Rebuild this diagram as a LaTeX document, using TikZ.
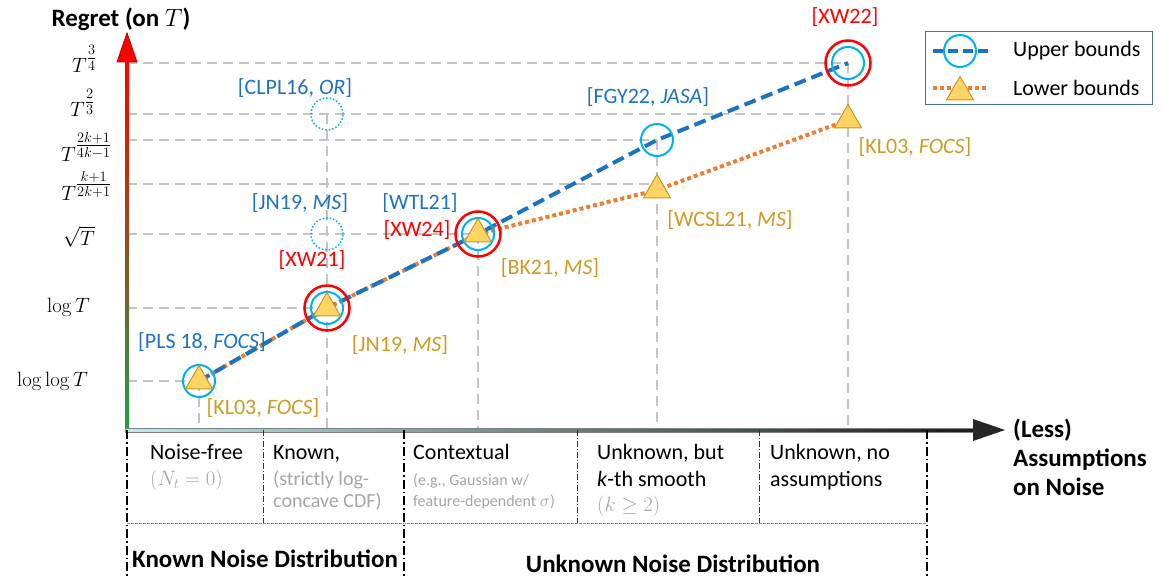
\documentclass[tikz,border=0pt]{standalone}
\usepackage[no-math]{fontspec}
\setmainfont{Carlito}
\usetikzlibrary{shapes.geometric,positioning}

\definecolor{refblue}{RGB}{30,115,190}
\definecolor{ringcyan}{RGB}{0,176,240}
\definecolor{lborange}{RGB}{237,125,49}
\definecolor{lbfill}{RGB}{255,212,100}
\definecolor{lbedge}{RGB}{200,150,30}
\definecolor{lbtext}{RGB}{205,155,35}
\definecolor{gridgray}{RGB}{195,195,195}
\definecolor{notegray}{RGB}{165,165,165}
\definecolor{legendframe}{RGB}{70,120,140}
\definecolor{axgreen}{RGB}{30,160,70}
\definecolor{axbrown}{RGB}{205,110,40}
\definecolor{axcyan}{RGB}{190,235,235}

\newcommand{\venue}[1]{\textit{#1}}
\newcommand{\labsize}{\fontsize{22}{26}\selectfont}
\newcommand{\notesize}{\fontsize{20}{24}\selectfont}
\newcommand{\tinynote}{\fontsize{16}{19}\selectfont}
\newcommand{\headsize}{\fontsize{25}{29}\selectfont\bfseries}

\begin{document}
\begin{tikzpicture}[x=1pt, y=-1pt,
  guide/.style={draw=gridgray, line width=1.5pt, dash pattern=on 10pt off 6pt},
  upper/.style={draw=refblue, line width=4pt, dash pattern=on 12pt off 6pt},
  lower/.style={draw=lborange, line width=4pt, dash pattern=on 4pt off 3pt},
  ubring/.style={circle, draw=ringcyan, line width=2pt, minimum size=32pt, inner sep=0pt},
  ubguess/.style={ubring, line width=1.5pt, dash pattern=on 1.5pt off 2pt},
  ourring/.style={circle, draw=red, line width=2.5pt, minimum size=45pt, inner sep=0pt},
  lbmark/.style={regular polygon, regular polygon sides=3, fill=lbfill, draw=lbedge,
    line width=1pt, minimum size=31pt, inner sep=0pt},
  reflab/.style={font=\labsize, inner sep=0pt},
  ticklab/.style={font=\labsize, inner sep=0pt, anchor=east},
  celltext/.style={font=\labsize, inner sep=0pt, anchor=base west},
  cellnote/.style={font=\notesize, text=notegray, inner sep=0pt, anchor=base west},
  groupsep/.style={line width=1.6pt, dash pattern=on 9pt off 3pt on 1.5pt off 3pt},
  cellsep/.style={draw=black!80, line width=0.7pt, dash pattern=on 6pt off 2pt on 1pt off 2pt},
  rowsep/.style={draw=black!45, line width=0.8pt, dash pattern=on 3pt off 1pt}]
  \useasboundingbox (0,0) rectangle (1162,578);

  % origin and regret levels on the vertical axis
  \coordinate (o) at (127,430);
  \coordinate (t34) at (127,63);
  \coordinate (t23) at (127,114);
  \coordinate (tk2) at (127,140);
  \coordinate (tk1) at (127,184);
  \coordinate (tsq) at (127,234);
  \coordinate (tlg) at (127,308);
  \coordinate (tll) at (127,381);

  % bounds
  \coordinate (p1) at (199,381);
  \coordinate (p2) at (327,308);
  \coordinate (p3) at (478,234);
  \coordinate (u4) at (657,140);
  \coordinate (l4) at (657,190);
  \coordinate (u5) at (848,63);
  \coordinate (l5) at (848,120);
  \coordinate (c1) at (327,114);
  \coordinate (c2) at (327,234);

  % guide lines
  \draw[guide] (t34) -- (u5);
  \draw[guide] (t23) -- (t23 -| l5);
  \draw[guide] (tk2) -- (u4);
  \draw[guide] (tk1) -- (tk1 -| l4);
  \draw[guide] (tsq) -- (p3);
  \draw[guide] (tlg) -- (p2);
  \draw[guide] (tll) -- (p1);
  \draw[guide] (p1) -- (p1 |- o);
  \draw[guide] (c1) -- (c1 |- o);
  \draw[guide] (p3) -- (p3 |- o);
  \draw[guide] (u4) -- (u4 |- o);
  \draw[guide] (u5) -- (u5 |- o);

  % axes
  \shade[top color=red, middle color=axbrown, bottom color=axgreen] (125,62) rectangle (129,430);
  \filldraw[fill=red, draw=red!70!black, line width=0.8pt] (117,62) -- (137,62) -- (127,33) -- cycle;
  \shadedraw[left color=axcyan, right color=black!90, draw=black!50, line width=0.5pt] (125,428) rectangle (975,432);
  \fill[black!85] (973,419) -- (1005,430) -- (973,441) -- cycle;

  \node[font=\headsize, anchor=base] (ylab) at (121,27) {Regret (on $T$)};
  \node[font=\headsize, anchor=north west, align=left, inner sep=0pt] (xlab) at (1013,419)
    {(Less)\\Assumptions\\on Noise};

  \node[ticklab] (lab34) at (97,59) {$T^{\textstyle\frac{3}{4}}$};
  \node[ticklab] (lab23) at (95,103) {$T^{\textstyle\frac{2}{3}}$};
  \node[ticklab] (labk2) at (112,147) {$T^{\textstyle\frac{2k+1}{4k-1}}$};
  \node[ticklab] (labk1) at (112,186) {$T^{\textstyle\frac{k+1}{2k+1}}$};
  \node[ticklab] (labsq) at (95,237) {$\sqrt{T}$};
  \node[ticklab] (lablg) at (90,307) {$\log T$};
  \node[ticklab] (labll) at (88,381) {$\log\log T$};

  % bound curves
  \draw[lower] (p1) -- (p2) -- (p3) -- (l4) -- (l5);
  \draw[upper] (p1) -- (p2) -- (p3) -- (u4) -- (u5);

  % markers
  \node[ubring] (m1) at (p1) {};
  \node[lbmark] (n1) at (p1) {};
  \node[ourring] (r2) at (p2) {};
  \node[ubring] (m2) at (p2) {};
  \node[lbmark] (n2) at (p2) {};
  \node[ourring] (r3) at (p3) {};
  \node[ubring] (m3) at (p3) {};
  \node[lbmark] (n3) at (p3) {};
  \node[ubring] (m4) at (u4) {};
  \node[lbmark] (n4) at (l4) {};
  \node[ourring] (r5) at (u5) {};
  \node[ubring] (m5) at (u5) {};
  \node[lbmark] (n5) at (l5) {};
  \node[ubguess] (g1) at (c1) {};
  \node[ubguess] (g2) at (c2) {};

  % references
  \node[reflab, text=red] (xw22) at (845,17) {[XW22]};
  \node[reflab, text=refblue] (fgy22) at (648,97) {[FGY22, \venue{JASA}]};
  \node[reflab, text=lbtext] (kl03b) at (915,147) {[KL03, \venue{FOCS}]};
  \node[reflab, text=lbtext] (wcsl21) at (730,220) {[WCSL21, \venue{MS}]};
  \node[reflab, text=refblue] (clpl16) at (295,88) {[CLPL16, \venue{OR}]};
  \node[reflab, text=refblue] (jn19u) at (300,203) {[JN19, \venue{MS}]};
  \node[reflab, text=red] (xw21) at (312,260) {[XW21]};
  \node[reflab, text=refblue] (wtl21) at (420,203) {[WTL21]};
  \node[reflab, text=red] (xw24) at (417,230) {[XW24]};
  \node[reflab, text=lbtext] (jn19l) at (400,345) {[JN19, \venue{MS}]};
  \node[reflab, text=refblue] (pls18) at (202,342) {[PLS 18, \venue{FOCS}]};
  \node[reflab, text=lbtext] (kl03a) at (263,408) {[KL03, \venue{FOCS}]};
  \node[reflab, text=lbtext] (bk21) at (550,268) {[BK21, \venue{MS}]};

  % legend
  \draw[draw=legendframe, line width=1pt] (925,32) rectangle (1152,104);
  \coordinate (lga) at (933,51);
  \coordinate (lgb) at (988,51);
  \coordinate (lgc) at (933,88);
  \coordinate (lgd) at (988,88);
  \draw[upper, dash pattern=on 10pt off 5pt] (lga) -- (lgb);
  \node[ubring] (lgring) at (960,51) {};
  \draw[lower] (lgc) -- (lgd);
  \node[lbmark] (lgmark) at (960,92) {};
  \node[reflab, anchor=west] (lgup) at (1013,51) {Upper bounds};
  \node[reflab, anchor=west] (lglo) at (1013,88) {Lower bounds};

  % noise assumption table
  \draw[groupsep] (127,430) -- (127,578);
  \draw[groupsep] (404,430) -- (404,578);
  \draw[groupsep] (927,430) -- (927,578);
  \draw[cellsep] (263,430) -- (263,523);
  \draw[cellsep] (577,430) -- (577,523);
  \draw[cellsep] (759,430) -- (759,523);
  \draw[rowsep] (127,523) -- (927,523);

  \node[celltext] (nfree) at (150,459) {Noise-free};
  \node[cellnote] (nfreenote) at (150,485) {$(N_t = 0)$};
  \node[celltext] (known) at (273,459) {Known,};
  \node[cellnote] (knownnote) at (273,485) {(strictly log-};
  \node[cellnote] (knownnoteb) at (273,507) {concave CDF)};
  \node[celltext] (ctx) at (413,459) {Contextual};
  \node[cellnote, font=\tinynote] (ctxnote) at (413,485) {(e.g., Gaussian w/};
  \node[cellnote, font=\tinynote] (ctxnoteb) at (413,506) {feature-dependent $\sigma$)};
  \node[celltext] (smooth) at (597,459) {Unknown, but};
  \node[celltext] (smoothb) at (597,486) {\textit{k}-th smooth};
  \node[cellnote] (smoothnote) at (597,511) {$(k \geq 2)$};
  \node[celltext] (noass) at (770,459) {Unknown, no};
  \node[celltext] (noassb) at (770,486) {assumptions};

  \node[font=\headsize, anchor=base] (knowngrp) at (265,567) {Known Noise Distribution};
  \node[font=\headsize, anchor=base] (unknowngrp) at (673,572) {Unknown Noise Distribution};
\end{tikzpicture}
\end{document}
